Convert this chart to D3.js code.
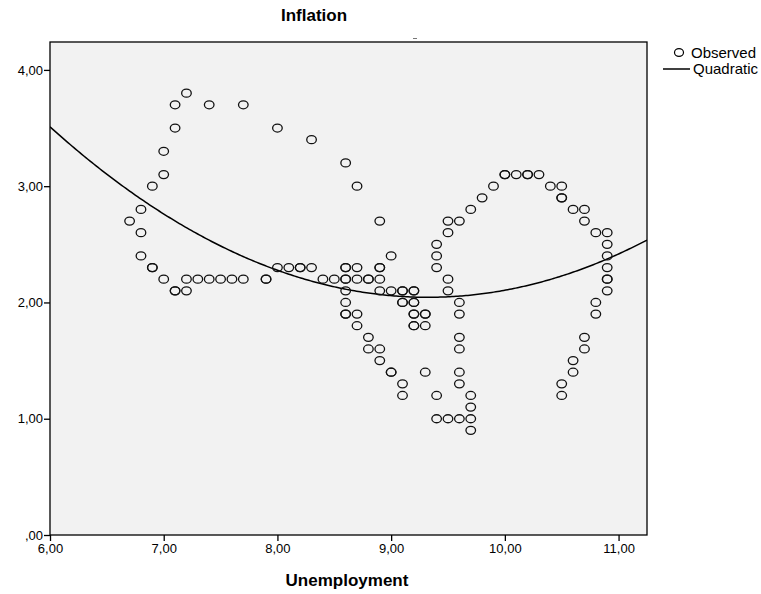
<!DOCTYPE html>
<html>
<head>
<meta charset="utf-8">
<script src="https://cdn.jsdelivr.net/npm/d3@7/dist/d3.min.js"></script>
<style>
  html, body { margin: 0; padding: 0; background: #ffffff; }
  svg { display: block; }
  text { font-family: "Liberation Sans", Arial, sans-serif; fill: #000; }
</style>
</head>
<body>
<svg id="chart" width="761" height="594"></svg>
<script>
// Observed values, one entry per period (unemployment %, inflation %)
const unemployment = [
  6.7, 6.8, 6.9, 7.0, 7.0, 7.1, 7.1, 7.2, 7.4, 7.7, 8.0, 8.3, 8.6, 8.7, 8.9, 9.0,
  6.8, 6.8, 6.9, 6.9, 7.0, 7.1, 7.1, 7.2, 7.2, 7.3, 7.4, 7.5, 7.6, 7.7, 7.9, 7.9,
  8.0, 8.1, 8.2, 8.2, 8.3, 8.4, 8.5, 8.6, 8.6, 8.7, 8.8, 8.8, 8.9,
  8.6, 8.6, 8.7, 8.9, 8.9,
  8.6, 8.6, 8.6, 8.6, 8.7, 8.7, 8.8, 8.8, 8.9, 8.9, 9.0, 9.0, 9.1, 9.1,
  8.9, 9.0, 9.1, 9.1, 9.2, 9.2, 9.1, 9.1, 9.2, 9.2, 9.2, 9.2, 9.3, 9.3, 9.2, 9.2, 9.3,
  9.3, 9.4, 9.4, 9.5, 9.6, 9.7, 9.7, 9.7, 9.7,
  9.6, 9.6, 9.6, 9.6, 9.6, 9.6, 9.5, 9.5, 9.4, 9.4, 9.4, 9.5, 9.5, 9.6, 9.7, 9.8, 9.9,
  10.0, 10.0, 10.1, 10.2, 10.2, 10.3, 10.4, 10.5, 10.5, 10.5, 10.6, 10.7, 10.7,
  10.8, 10.9, 10.9, 10.9, 10.9, 10.9, 10.9, 10.9, 10.8, 10.8, 10.7, 10.7, 10.6, 10.6, 10.5, 10.5
];
const inflation = [
  2.7, 2.8, 3.0, 3.1, 3.3, 3.5, 3.7, 3.8, 3.7, 3.7, 3.5, 3.4, 3.2, 3.0, 2.7, 2.4,
  2.6, 2.4, 2.3, 2.3, 2.2, 2.1, 2.1, 2.1, 2.2, 2.2, 2.2, 2.2, 2.2, 2.2, 2.2, 2.2,
  2.3, 2.3, 2.3, 2.3, 2.3, 2.2, 2.2, 2.2, 2.2, 2.2, 2.2, 2.2, 2.2,
  2.3, 2.3, 2.3, 2.3, 2.3,
  2.1, 2.0, 1.9, 1.9, 1.9, 1.8, 1.7, 1.6, 1.6, 1.5, 1.4, 1.4, 1.3, 1.2,
  2.1, 2.1, 2.1, 2.1, 2.1, 2.1, 2.0, 2.0, 2.0, 2.0, 1.9, 1.9, 1.9, 1.9, 1.8, 1.8, 1.8,
  1.4, 1.2, 1.0, 1.0, 1.0, 1.0, 0.9, 1.1, 1.2,
  1.3, 1.4, 1.6, 1.7, 1.9, 2.0, 2.1, 2.2, 2.3, 2.4, 2.5, 2.6, 2.7, 2.7, 2.8, 2.9, 3.0,
  3.1, 3.1, 3.1, 3.1, 3.1, 3.1, 3.0, 3.0, 2.9, 2.9, 2.8, 2.8, 2.7,
  2.6, 2.6, 2.5, 2.4, 2.3, 2.2, 2.2, 2.1, 2.0, 1.9, 1.7, 1.6, 1.5, 1.4, 1.3, 1.2
];

// Quadratic fit: inflation = b0 + b1*u + b2*u^2
const quadCoef = [13.581, -2.4746, 0.1327];

const xTicks = [6, 7, 8, 9, 10, 11];
const yTicks = [0, 1, 2, 3, 4];

const chartTitle = "Inflation";
const xTitle = "Unemployment";
const legendLabels = ["Observed", "Quadratic"];

const fmt = v => {
  const s = v.toFixed(2).replace(".", ",");
  return s.startsWith("0,") ? s.slice(1) : s;
};

const svg = d3.select("#chart");
const plot = { left: 50, top: 42, right: 647, bottom: 535 };

const x = d3.scaleLinear().domain([6, 11.25]).range([plot.left, plot.right]);
const y = d3.scaleLinear().domain([0, 4.24]).range([plot.bottom, plot.top]);

// plot background
svg.append("rect")
  .attr("x", plot.left).attr("y", plot.top)
  .attr("width", plot.right - plot.left).attr("height", plot.bottom - plot.top)
  .attr("fill", "#f2f2f2");

svg.append("defs").append("clipPath").attr("id", "plotClip")
  .append("rect")
  .attr("x", plot.left).attr("y", plot.top)
  .attr("width", plot.right - plot.left).attr("height", plot.bottom - plot.top);

// fitted curve
const curveXs = d3.range(0, 301).map(i => 6 + i * (11.25 - 6) / 300);
const line = d3.line()
  .x(d => x(d))
  .y(d => y(quadCoef[0] + quadCoef[1] * d + quadCoef[2] * d * d));

svg.append("path")
  .datum(curveXs)
  .attr("clip-path", "url(#plotClip)")
  .attr("d", line)
  .attr("fill", "none")
  .attr("stroke", "#000")
  .attr("stroke-width", 1.5);

// observed points
svg.append("g").selectAll("ellipse")
  .data(unemployment.map((u, i) => [u, inflation[i]]))
  .join("ellipse")
  .attr("cx", d => x(d[0]))
  .attr("cy", d => y(d[1]))
  .attr("rx", 4.8)
  .attr("ry", 4.0)
  .attr("fill", "none")
  .attr("stroke", "#111")
  .attr("stroke-width", 1.3);

// frame
svg.append("rect")
  .attr("x", plot.left).attr("y", plot.top)
  .attr("width", plot.right - plot.left).attr("height", plot.bottom - plot.top)
  .attr("fill", "none").attr("stroke", "#000").attr("stroke-width", 1.3);

// axes
const xAxis = svg.append("g")
  .attr("transform", `translate(0,${plot.bottom})`)
  .call(d3.axisBottom(x).tickValues(xTicks).tickFormat(fmt).tickSize(6).tickPadding(3));
const yAxis = svg.append("g")
  .attr("transform", `translate(${plot.left},0)`)
  .call(d3.axisLeft(y).tickValues(yTicks).tickFormat(fmt).tickSize(6).tickPadding(1));

[xAxis, yAxis].forEach(g => {
  g.select(".domain").remove();
  g.selectAll(".tick line").attr("stroke", "#000").attr("stroke-width", 1.3);
  g.selectAll(".tick text")
    .attr("font-family", "Liberation Sans, Arial, sans-serif")
    .attr("font-size", 13)
    .attr("fill", "#000");
});

// titles
svg.append("text")
  .attr("x", 314).attr("y", 21)
  .attr("text-anchor", "middle")
  .attr("font-size", 17).attr("font-weight", "bold")
  .text(chartTitle);

svg.append("text")
  .attr("x", 347).attr("y", 586)
  .attr("text-anchor", "middle")
  .attr("font-size", 17).attr("font-weight", "bold")
  .text(xTitle);

// short mark above the frame
svg.append("line")
  .attr("x1", 413).attr("x2", 417).attr("y1", 38.5).attr("y2", 38.5)
  .attr("stroke", "#777").attr("stroke-width", 1);

// legend
const legend = svg.append("g");
legend.append("ellipse")
  .attr("cx", 679).attr("cy", 52.5).attr("rx", 4.5).attr("ry", 3.8)
  .attr("fill", "none").attr("stroke", "#000").attr("stroke-width", 1.2);
legend.append("text")
  .attr("x", 691).attr("y", 58)
  .attr("font-size", 15)
  .text(legendLabels[0]);
legend.append("line")
  .attr("x1", 663).attr("x2", 690).attr("y1", 69).attr("y2", 69)
  .attr("stroke", "#000").attr("stroke-width", 1.5);
legend.append("text")
  .attr("x", 693).attr("y", 74)
  .attr("font-size", 15)
  .text(legendLabels[1]);
</script>
</body>
</html>
